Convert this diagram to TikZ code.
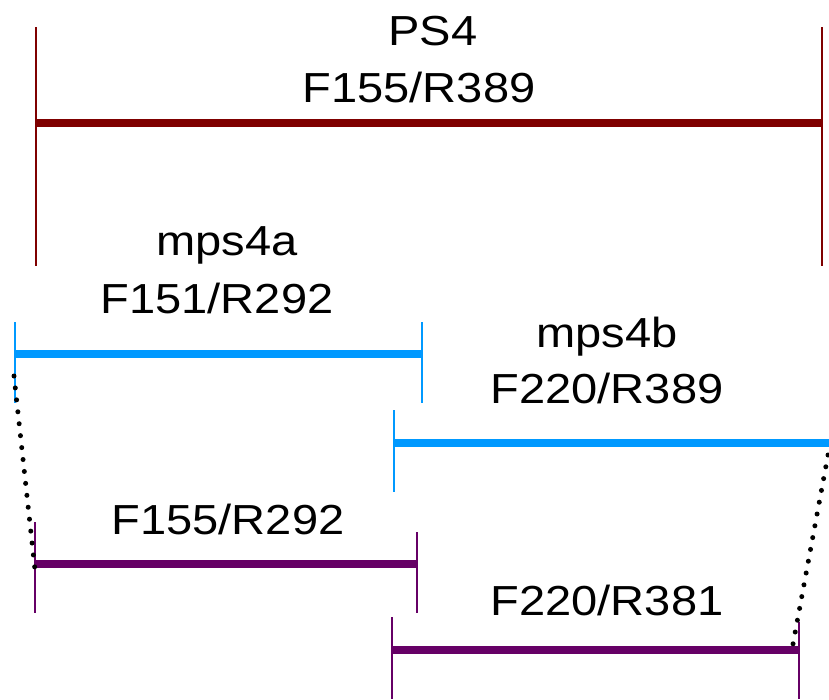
\documentclass[tikz,border=0pt]{standalone}
\usepackage{fontspec}
\setmainfont{Liberation Sans}
\definecolor{psred}{HTML}{7F0000}
\definecolor{mpsblue}{HTML}{0099FF}
\definecolor{subpurple}{HTML}{660066}
\begin{document}
\begin{tikzpicture}[x=1pt,y=-1pt,
  bar/.style={line width=7.5pt},
  tick/.style={line width=2pt},
  lbl/.style={anchor=base,inner sep=0pt,font=\fontsize{42}{50}\selectfont},
  link/.style={line width=5pt,line cap=round,dash pattern=on 0pt off 12pt}]
  \useasboundingbox (0,0) rectangle (829,699);
  % PS4
  \coordinate (ps4l) at (36,123);
  \coordinate (ps4r) at (822,123);
  \draw[psred,tick] (36,27) -- (36,266);
  \draw[psred,tick] (822,27) -- (822,266);
  \draw[psred,bar] (ps4l) -- (ps4r);
  \node[lbl] (ps4name) at (433,45) {\scalebox{1.12}[1]{PS4}};
  \node[lbl] (ps4prim) at (419,102) {\scalebox{1.12}[1]{F155/R389}};
  % mps4a
  \coordinate (mal) at (15,354);
  \coordinate (mar) at (422,354);
  \draw[mpsblue,tick] (15,322) -- (15,403);
  \draw[mpsblue,tick] (422,322) -- (422,403);
  \draw[mpsblue,bar] (mal) -- (mar);
  \node[lbl] (maname) at (227,255) {\scalebox{1.12}[1]{mps4a}};
  \node[lbl] (maprim) at (217,313) {\scalebox{1.12}[1]{F151/R292}};
  % mps4b
  \coordinate (mbl) at (394,443);
  \coordinate (mbr) at (829,443);
  \draw[mpsblue,tick] (394,410) -- (394,492);
  \draw[mpsblue,bar] (mbl) -- (mbr);
  \node[lbl] (mbname) at (607,347) {\scalebox{1.12}[1]{mps4b}};
  \node[lbl] (mbprim) at (607,403) {\scalebox{1.12}[1]{F220/R389}};
  % nested primers
  \coordinate (nal) at (35,564);
  \coordinate (nar) at (417,564);
  \draw[subpurple,tick] (35,522) -- (35,613);
  \draw[subpurple,tick] (417,532) -- (417,613);
  \draw[subpurple,bar] (nal) -- (nar);
  \node[lbl] (naprim) at (228,534) {\scalebox{1.12}[1]{F155/R292}};
  \coordinate (nbl) at (392,650);
  \coordinate (nbr) at (799,650);
  \draw[subpurple,tick] (392,617) -- (392,699);
  \draw[subpurple,tick] (799,622) -- (799,699);
  \draw[subpurple,bar] (nbl) -- (nbr);
  \node[lbl] (nbprim) at (607,615) {\scalebox{1.12}[1]{F220/R381}};
  % dotted links
  \coordinate (la) at (14,376);
  \coordinate (lb) at (35,570);
  \coordinate (ra) at (828,455);
  \coordinate (rb) at (793,644);
  \draw[link] (la) -- (lb);
  \draw[link] (ra) -- (rb);
\end{tikzpicture}
\end{document}
